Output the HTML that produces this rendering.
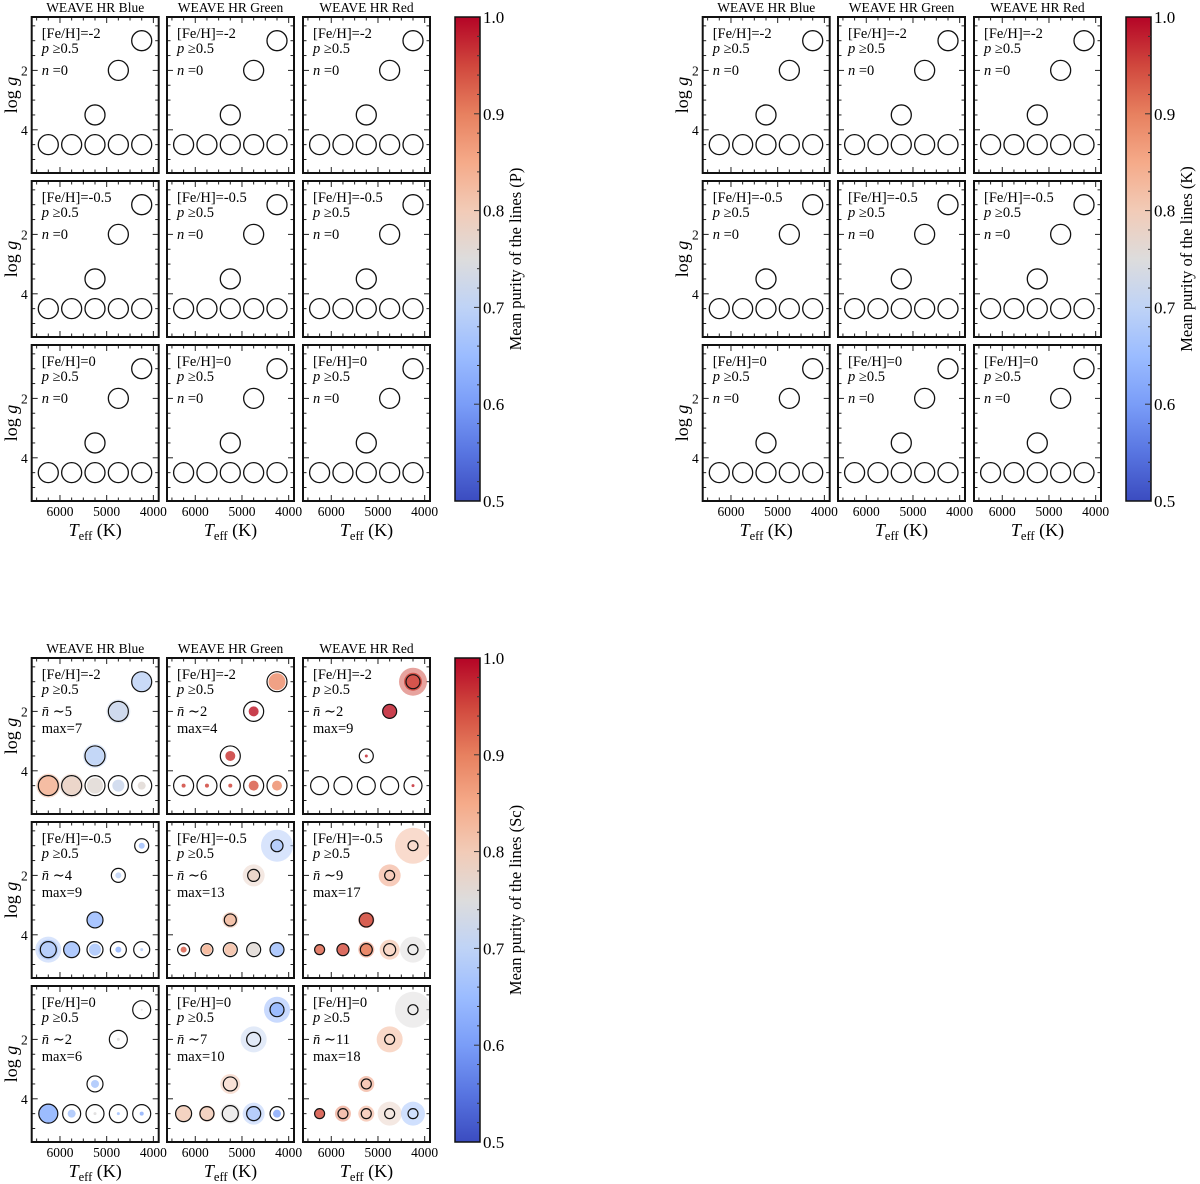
<!DOCTYPE html>
<html><head><meta charset="utf-8"><style>
html,body{margin:0;padding:0;background:#fff;}
svg{display:block;font-family:"Liberation Serif","DejaVu Serif",serif;}
</style></head><body>
<svg id="fig" width="1200" height="1184" viewBox="0 0 1200 1184" xmlns="http://www.w3.org/2000/svg">
<defs>
<linearGradient id="cw" x1="0" y1="1" x2="0" y2="0">
<stop offset="0" stop-color="#3b4cc0"/><stop offset="0.1" stop-color="#5875e1"/><stop offset="0.2" stop-color="#7a9df8"/>
<stop offset="0.3" stop-color="#9bbcff"/><stop offset="0.4" stop-color="#bfd3f6"/><stop offset="0.5" stop-color="#dddcdc"/>
<stop offset="0.6" stop-color="#f2cbb7"/><stop offset="0.7" stop-color="#f5aa89"/><stop offset="0.8" stop-color="#e7805f"/>
<stop offset="0.9" stop-color="#d0473d"/><stop offset="1" stop-color="#b40426"/>
</linearGradient>
</defs>
</svg>
<script>
// ---- data ----
const bands = ['Blue','Green','Red'];
const metallicities = ['-2','-0.5','0'];
const pointTeff = [6250,5750,5250,4750,4250,5250,4750,4250];
const pointLogg = [4.5,4.5,4.5,4.5,4.5,3.5,2,1];
const xTicks = [6000,5000,4000];
const yTicks = [2,4];
const cbTicks = [0.5,0.6,0.7,0.8,0.9,1.0];
const groupLabels = ['(P)','(K)','(Sc)'];
const scMean = [['5','2','2'],['4','6','9'],['2','7','11']];
const scMax = [['7','4','9'],['9','13','17'],['6','10','18']];
const scPurity = [
 [[0.83,0.78,0.76,0.72,0.76,0.70,0.72,0.70],[0.95,0.95,0.95,0.93,0.88,0.96,0.98,0.88],[0.97,0.97,0.97,0.97,0.97,0.97,0.98,0.95]],
 [[0.68,0.66,0.67,0.64,0.68,0.65,0.70,0.66],[0.93,0.84,0.82,0.76,0.66,0.82,0.78,0.68],[0.92,0.94,0.90,0.84,0.75,0.94,0.87,0.83]],
 [[0.64,0.67,0.75,0.66,0.63,0.67,0.75,0.75],[0.80,0.80,0.75,0.68,0.62,0.81,0.71,0.64],[0.94,0.90,0.86,0.78,0.66,0.88,0.84,0.75]]
];
const scHalo = [
 [[12,12,0,0,0,12,12,0],[0,0,0,0,0,0,0,0],[0,0,0,0,0,0,0,14]],
 [[13,0,0,0,0,0,0,0],[0,0,0,0,0,8,11,16],[0,0,8,10,13,8,11,18]],
 [[10,0,0,0,0,0,0,0],[0,0,10,11,0,10,13,13],[0,8,8,12,12,8,13,18]]
];
const scDot = [
 [[10,9,8,6,4,9,9,10],[2,2,2,5,5,5,5,8.5],[0,0,0,0,1.5,1.5,7,9]],
 [[10,8,6,3,1.5,8,3,3],[3,5,6,6,7,6,6,6],[5,6,6,0,0,7,0,0]],
 [[10,4,1.5,1.5,2,4,1.5,1],[8,8,0,8,4,0,0,7],[5,0,0,0,0,0,0,0]]
];
const scRing = [
 [[10,10,10,10,10,10,10,10],[10,10,10,10,10,10,10,10],[9,9,9,9,9,7,7,7]],
 [[8,8,8,8,8,8,7,7],[6,6,7,7,7,6,6,6],[5,6,6,6,5,7,5,5]],
 [[9.5,9,9,9,9,8,9,9],[8,7,8,7,7,7,7,7],[5,5,5,5,5,5,5,5]]
];
// ---- geometry ----
const NS='http://www.w3.org/2000/svg';
const svg=document.getElementById('fig');
const groupOffsets=[[0,0],[671,0],[0,641]];
const panelX=[31.7,167,303], panelY=[17,181,345], PW=127, PH=156;
function xs(t){return 16.6+(6250-t)*0.0467;}
function ys(g){return 23.7+(g-1)*29.7;}
function cmap(v){
 const st=[[59,76,192],[88,117,225],[122,157,248],[155,188,255],[191,211,246],[221,220,220],[242,203,183],[245,170,137],[231,128,95],[208,71,61],[180,4,38]];
 let f=Math.max(0,Math.min(1,(v-0.5)/0.5))*10, i=Math.min(9,Math.floor(f)), r=f-i;
 const c=st[i].map((a,k)=>Math.round(a+(st[i+1][k]-a)*r));
 return 'rgb('+c.join(',')+')';
}
function el(tag,attrs,parent,text){
 const e=document.createElementNS(NS,tag);
 for(const k in attrs)e.setAttribute(k,attrs[k]);
 if(text!==undefined)e.textContent=text;
 (parent||svg).appendChild(e);return e;
}
for(let gi=0;gi<3;gi++){
 const [ox,oy]=groupOffsets[gi];
 const grp=el('g',{});
 
 
 for(let r=0;r<3;r++)for(let c=0;c<3;c++){
  const x0=ox+panelX[c], y0=oy+panelY[r];
  const pg=el('g',{},grp);
  
  
  if(r===0){
   const t=el('text',{x:x0+PW/2,y:oy+12,'text-anchor':'middle','font-size':13.5},pg,'WEAVE HR '+bands[c]);
   
   
  }
  for(let g=0.5;g<=5.01;g+=0.5){
   const yy=y0+ys(g), maj=yTicks.includes(g), L=maj?6:3.5;
   el('line',{x1:x0,x2:x0+L,y1:yy,y2:yy,stroke:'#222','stroke-width':1},pg);
   el('line',{x1:x0+PW,x2:x0+PW-L,y1:yy,y2:yy,stroke:'#222','stroke-width':1},pg);
  }
  for(let t=6500;t>=4000;t-=250){
   const xx=x0+xs(t); if(xx<x0+1||xx>x0+PW-1)continue;
   const maj=xTicks.includes(t), L=maj?6:3.5;
   el('line',{x1:xx,x2:xx,y1:y0+PH,y2:y0+PH-L,stroke:'#222','stroke-width':1},pg);
   el('line',{x1:xx,x2:xx,y1:y0,y2:y0+L,stroke:'#222','stroke-width':1},pg);
  }
  if(c===0){
   yTicks.forEach(g=>{const t=el('text',{x:x0-4,y:y0+ys(g)+5,'text-anchor':'end','font-size':13.5},pg,String(g));
    
    });
   const yl=el('text',{x:0,y:0,'text-anchor':'middle','font-size':18,transform:'translate('+(ox+17)+','+(y0+PH/2)+') rotate(-90)'},pg);
   
   
   el('tspan',{},yl,'log ');el('tspan',{'font-style':'italic'},yl,'g');
  }
  if(r===2){
   xTicks.forEach(t=>{const tx=el('text',{x:x0+xs(t),y:y0+PH+15,'text-anchor':'middle','font-size':13.5},pg,String(t));
    
    });
   const xl=el('text',{x:x0+PW/2,y:y0+PH+35,'text-anchor':'middle','font-size':18},pg);
   
   
   el('tspan',{'font-style':'italic'},xl,'T');el('tspan',{dy:4,'font-size':12.5},xl,'eff');el('tspan',{dy:-4},xl,' (K)');
  }
  const ax=x0+10;
  el('text',{x:ax,y:y0+21,'font-size':14.5},pg,'[Fe/H]='+metallicities[r]);
  const pt=el('text',{x:ax,y:y0+36,'font-size':14.5},pg);
  el('tspan',{'font-style':'italic'},pt,'p');el('tspan',{},pt,' \u22650.5');
  const isSc=gi===2;
  const nt=el('text',{x:ax,y:y0+58,'font-size':14.5},pg);
  if(isSc){el('tspan',{'font-style':'italic'},nt,'n\u0304');el('tspan',{},nt,' \u223c'+scMean[r][c]);
   el('text',{x:ax,y:y0+75,'font-size':14.5},pg,'max='+scMax[r][c]);}
  else{el('tspan',{'font-style':'italic'},nt,'n');el('tspan',{},nt,' =0');}
  for(let i=0;i<pointTeff.length;i++){
   const cx=x0+xs(pointTeff[i]), cy=y0+ys(pointLogg[i]);
   const mg=el('g',{},pg);
   
   
   if(isSc){
    const v=scPurity[r][c][i], col=cmap(v);
    if(scHalo[r][c][i]>0)el('circle',{cx,cy,r:scHalo[r][c][i],fill:col,'fill-opacity':0.5},mg);
    if(scDot[r][c][i]>0)el('circle',{cx,cy,r:scDot[r][c][i],fill:col,'fill-opacity':0.85},mg);
    el('circle',{cx,cy,r:scRing[r][c][i],fill:'none',stroke:'#111','stroke-width':1.2},mg);
   }else{
    el('circle',{cx,cy,r:10,fill:'none',stroke:'#111','stroke-width':1.3},mg);
   }
  }
  el('rect',{x:x0,y:y0,width:PW,height:PH,fill:'none',stroke:'#111','stroke-width':2},pg);
 }
 const cbx=ox+455, cby=oy+17, cbw=25, cbh=484;
 const cb=el('g',{},grp);
 
 
 el('rect',{x:cbx,y:cby,width:cbw,height:cbh,fill:'url(#cw)',stroke:'#111','stroke-width':1.5},cb);
 for(let k=0;k<=25;k++){
  const v=0.5+k*0.02, yy=cby+cbh-(v-0.5)/0.5*cbh, maj=k%5===0;
  if(k>0&&k<25)el('line',{x1:cbx+cbw,x2:cbx+cbw-(maj?6:3),y1:yy,y2:yy,stroke:'#333','stroke-width':1},cb);
 }
 cbTicks.forEach(v=>{const yy=cby+cbh-(v-0.5)/0.5*cbh;
  const t=el('text',{x:cbx+cbw+3,y:yy+6,'font-size':17},cb,v.toFixed(1));
  
  });
 const lab=el('text',{x:0,y:0,'text-anchor':'middle','font-size':16.5,transform:'translate('+(cbx+66)+','+(cby+cbh/2)+') rotate(-90)'},cb,'Mean purity of the lines '+groupLabels[gi]);
 
 
}
</script>
</body></html>
